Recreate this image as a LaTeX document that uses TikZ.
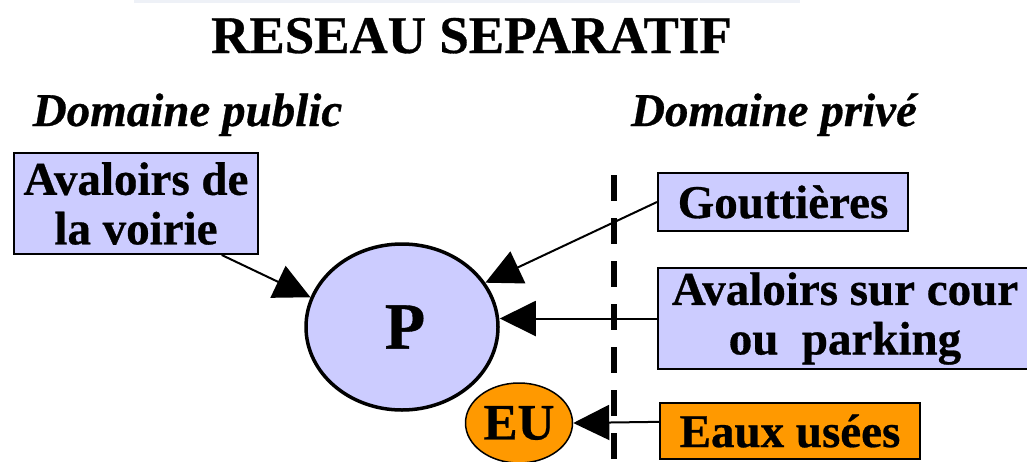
\documentclass[tikz,border=0pt]{standalone}
\usepackage{fontspec}
\setmainfont{Liberation Serif}[BoldFeatures={FakeBold=0.6}, BoldItalicFeatures={FakeBold=0.6}]
\usepackage{xcolor}
\usepackage{tikz}
\usetikzlibrary{arrows.meta}
\usetikzlibrary{shapes.geometric}

\definecolor{lavande}{RGB}{204,204,255}
\definecolor{orangeeu}{RGB}{255,153,0}
\definecolor{filet}{RGB}{238,241,247}

\begin{document}
\begin{tikzpicture}[x=0.5pt, y=-0.5pt,
    box/.style={rectangle, draw, line width=1pt, inner sep=0pt, align=center,
      font=\fontsize{23.5}{24.75}\selectfont\bfseries},
    disc/.style={ellipse, draw, inner sep=0pt},
    head/.style={font=\fontsize{23.5}{26}\selectfont\bfseries\itshape, anchor=base},
    >={Triangle[length=18pt,width=17.5pt]}, arr/.style={->, line width=1pt}]

  \useasboundingbox (0,0) rectangle (1027,461);
  \fill[filet] (134,0) rectangle (800,3);

  \node[font=\fontsize{26.5}{30}\selectfont\bfseries, anchor=base] (titre) at (471.5,53) {RESEAU SEPARATIF};
  \node[head] (public) at (187.5,126) {Domaine public};
  \node[head] (prive) at (774,126) {Domaine privé};

  \node[box, fill=lavande, minimum width=122pt, minimum height=50.5pt] (voirie) at (136,203.5) {Avaloirs de\\la voirie};
  \node[disc, fill=lavande, line width=1.75pt, minimum width=96pt, minimum height=83pt,
    font=\fontsize{33}{33}\selectfont\bfseries] (P) at (402,327) {\hspace{3pt}P};
  \node[disc, fill=orangeeu, line width=0.75pt, minimum width=53.5pt, minimum height=40pt,
    font=\fontsize{25.5}{26}\selectfont\bfseries] (EU) at (519,423) {EU};

  \node[box, fill=lavande, minimum width=125pt, minimum height=29pt] (gout) at (783,202) {Gouttières};
  \node[box, fill=lavande, minimum width=187pt, minimum height=50.5pt] (cour) at (845,318.5) {Avaloirs sur cour\\ou~~parking};
  \node[box, fill=orangeeu, minimum width=130pt, minimum height=28pt] (eaux) at (790,431) {Eaux usées};

  % limite public / prive
  \draw[line width=3.25pt, dash pattern=on 13pt off 8.5pt] (614,175) -- (614,461);

  \draw[arr] (voirie.-31) -- (P.162);
  \draw[arr] (gout.west) -- (P.28);
  \draw[arr] (cour.west) -- (P.east |- cour.west);
  \draw[arr] (eaux.176) -- (EU.east);
\end{tikzpicture}
\end{document}
